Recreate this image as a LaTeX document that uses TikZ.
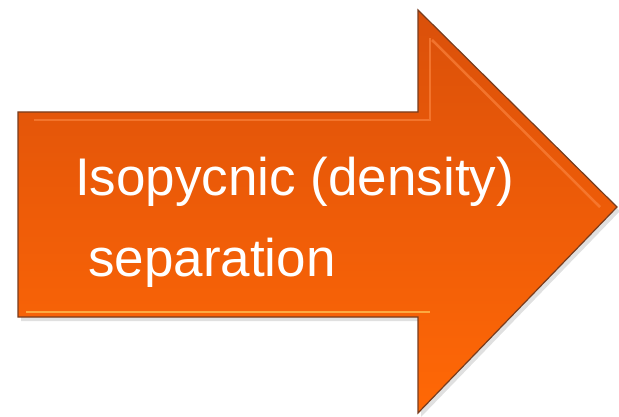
\documentclass[tikz,border=0pt]{standalone}
\usepackage{fontspec}
\setmainfont{Liberation Sans}
\definecolor{otop}{RGB}{218,80,10}
\definecolor{omid}{RGB}{238,92,8}
\definecolor{obot}{RGB}{255,104,6}
\definecolor{oedge}{RGB}{120,60,30}
\definecolor{ohi}{RGB}{250,130,60}
\definecolor{ohib}{RGB}{255,200,90}
\begin{document}
\begin{tikzpicture}[x=1pt,y=1pt,
  arrowbody/.style={draw=oedge,line width=1.2pt,top color=otop,bottom color=obot,middle color=omid},
  bevel/.style={draw=ohi,line width=2.5pt,opacity=0.7},
  label/.style={text=white,font=\fontsize{53}{60}\selectfont,anchor=base west,inner sep=0pt}]
\useasboundingbox (0,0) rectangle (619,416);
\fill[black,opacity=0.12] (21,99-4) -- (21,304-4) -- (421,304-4) -- (421,406-4) -- (620,209-4) -- (421,3-4) -- (421,99-4) -- cycle;
\path[arrowbody] (18,99) coordinate (bl) -- (18,304) coordinate (tl) -- (418,304) coordinate (nt) -- (418,406) coordinate (ht) -- (617,209) coordinate (tip) -- (418,3) coordinate (hb) -- (418,99) coordinate (nb) -- cycle;
\draw[bevel] (34,296) -- (430,296) -- (430,378);
\draw[bevel] (432,376) -- (600,209);
\draw[draw=ohib,line width=2.5pt,opacity=0.7] (26,104) -- (430,104);
\node[label] (l1) at (75,221) {Isopycnic (density)};
\node[label] (l2) at (88,140) {separation};
\end{tikzpicture}
\end{document}
